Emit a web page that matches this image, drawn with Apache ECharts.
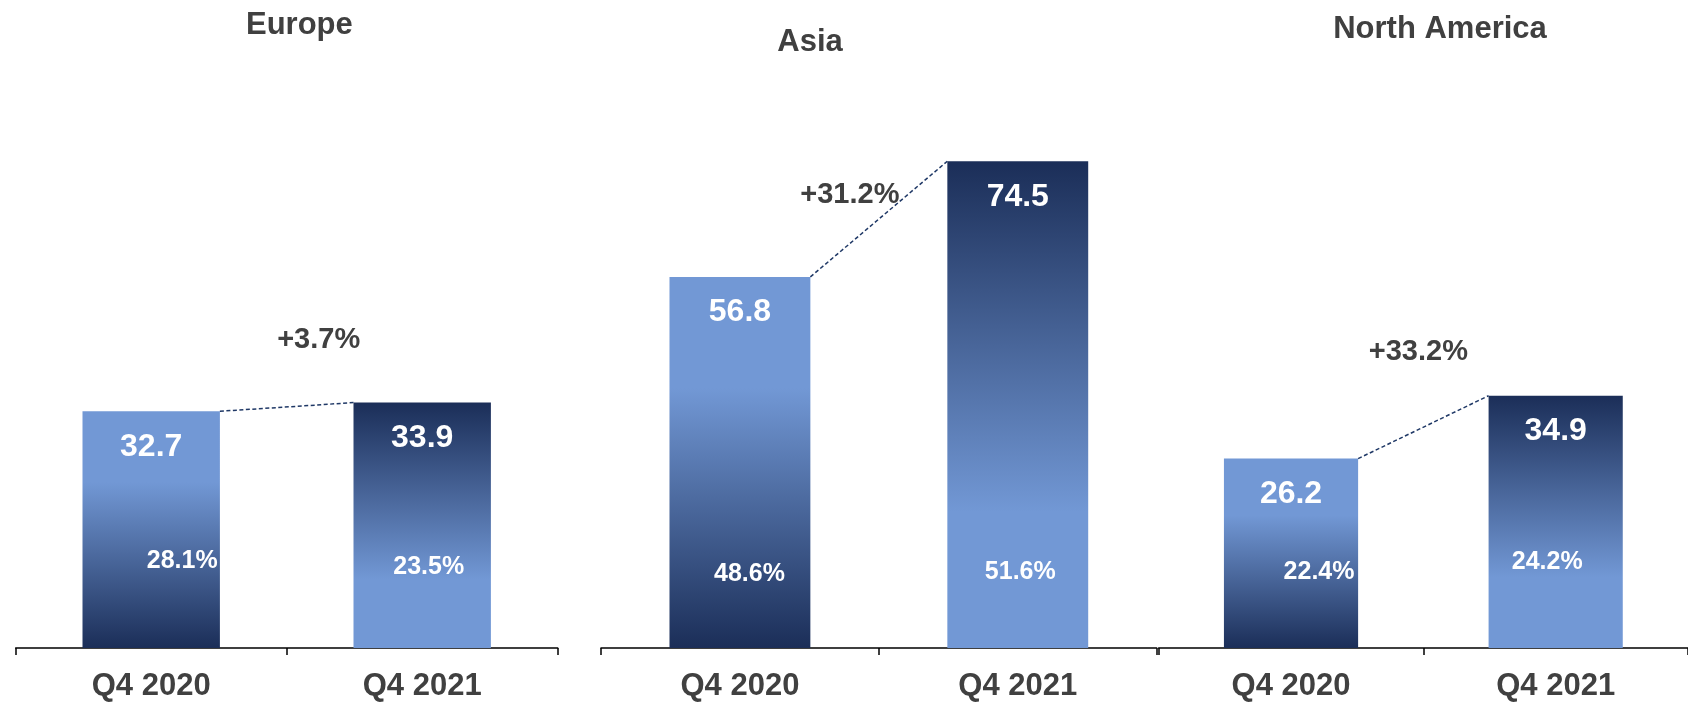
<!DOCTYPE html>
<html>
<head>
<meta charset="utf-8">
<title>Revenue by region, Q4 2020 vs Q4 2021</title>
<script src="https://cdn.jsdelivr.net/npm/echarts@6/dist/echarts.min.js"></script>
<style>
  html, body { margin: 0; padding: 0; background: #ffffff; }
  #chart { width: 1688px; height: 702px; }
</style>
</head>
<body>
<div id="chart"></div>
<script>
// Quarters compared in every regional panel
const periods = ['Q4 2020', 'Q4 2021'];
const regionNames = ['Europe', 'Asia', 'North America'];

// Quarterly revenue per region
const europeRevenue = [32.7, 33.9];
const asiaRevenue = [56.8, 74.5];
const northAmericaRevenue = [26.2, 34.9];

// Regional share of the quarter's total (%)
const europeShare = [28.1, 23.5];
const asiaShare = [48.6, 51.6];
const northAmericaShare = [22.4, 24.2];

const revenue = [europeRevenue, asiaRevenue, northAmericaRevenue];
const share = [europeShare, asiaShare, northAmericaShare];

const LIGHT = '#7298d5';
const NAVY = '#1b2e58';
const INK = '#404040';
const FONT = '"Liberation Sans", Arial, Helvetica, sans-serif';
const BAR_FRAC = 0.507;
const AXIS_BOTTOM = 52.7;

// Panel layout: grid box, title anchor, growth-label shift from the connector midpoint,
// and share-label placement [x shift from bar centre, lift above the axis]
const panels = [
  { grid: { left: 15.7, right: 1130.3, top: 68.9 }, title: [294.4, 5], 
    growthShift: [32, -66.5], shareShift: [[31, 89.3], [6.5, 83.3]] },
  { grid: { left: 601, right: 531.3, top: 125.3 }, title: [805, 21.5],
    growthShift: [-29, -24], shareShift: [[9.5, 76.3], [2.5, 78.8]] },
  { grid: { left: 1158.7, right: -10.7, top: 69.7 }, title: [1435, 8.5],
    growthShift: [-5, -75.5], shareShift: [[28, 78.8], [-8.5, 88.3]] }
];

// Q4 2020 bars fade light-to-navy downward, Q4 2021 bars navy-to-light
const fill2020 = new echarts.graphic.LinearGradient(0, 0, 0, 1, [
  { offset: 0, color: LIGHT }, { offset: 0.3, color: LIGHT }, { offset: 1, color: NAVY }
]);
const fill2021 = new echarts.graphic.LinearGradient(0, 0, 0, 1, [
  { offset: 0, color: NAVY }, { offset: 0.72, color: LIGHT }, { offset: 1, color: LIGHT }
]);
const fills = [fill2020, fill2021];

function growthText(values) {
  const g = (values[1] / values[0] - 1) * 100;
  return (g >= 0 ? '+' : '') + g.toFixed(1) + '%';
}

const grids = [], xAxes = [], yAxes = [], titles = [], series = [];

panels.forEach((panel, i) => {
  grids.push(Object.assign({ bottom: AXIS_BOTTOM, containLabel: false }, panel.grid));

  xAxes.push({
    type: 'category', gridIndex: i, data: periods,
    axisLine: { lineStyle: { color: '#000000', width: 1.5 } },
    axisTick: { show: true, length: 7, lineStyle: { color: '#000000', width: 1.5 } },
    axisLabel: { fontSize: 31, fontWeight: 'bold', color: INK, margin: 23, fontFamily: FONT }
  });

  yAxes.push({ type: 'value', gridIndex: i, min: 0, max: 80, show: false });

  titles.push({
    text: regionNames[i], left: panel.title[0], top: panel.title[1], textAlign: 'center',
    textStyle: { fontSize: 31, fontWeight: 'bold', color: INK, fontFamily: FONT }
  });

  // Revenue bars with the value inside the top
  series.push({
    type: 'bar', name: regionNames[i], xAxisIndex: i, yAxisIndex: i,
    barWidth: (BAR_FRAC * 100) + '%', barGap: '-100%',
    data: revenue[i].map((v, j) => ({ value: v, itemStyle: { color: fills[j] } })),
    label: {
      show: true, position: 'insideTop', distance: 19.5,
      formatter: p => p.value.toFixed(1),
      color: '#ffffff', fontSize: 32, lineHeight: 32, fontWeight: 'bold', fontFamily: FONT
    },
    z: 2
  });

  // Transparent overlay carrying the share labels near the bar base
  series.push({
    type: 'bar', name: regionNames[i] + ' share', xAxisIndex: i, yAxisIndex: i,
    barWidth: (BAR_FRAC * 100) + '%', barGap: '-100%', silent: true,
    itemStyle: { color: 'rgba(0,0,0,0)' },
    data: revenue[i].map((v, j) => ({
      value: v,
      label: { offset: [panel.shareShift[j][0], -(panel.shareShift[j][1] - 15.5)] }
    })),
    label: {
      show: true, position: 'insideBottom', distance: 0,
      formatter: p => share[i][p.dataIndex].toFixed(1) + '%',
      color: '#ffffff', fontSize: 25, lineHeight: 26, fontWeight: 'bold', fontFamily: FONT
    },
    z: 3
  });

  // Dashed connector between bar tops, with the year-over-year growth label
  series.push({
    type: 'custom', name: regionNames[i] + ' growth', xAxisIndex: i, yAxisIndex: i,
    encode: { x: 0, y: [1, 2] },
    data: [[0, revenue[i][0], revenue[i][1]]],
    silent: true, z: 4,
    renderItem: (params, api) => {
      const half = api.size([1, 0])[0] * BAR_FRAC / 2;
      const a = api.coord([0, api.value(1)]);
      const b = api.coord([1, api.value(2)]);
      const x1 = a[0] + half, y1 = a[1], x2 = b[0] - half, y2 = b[1];
      return {
        type: 'group',
        children: [
          { type: 'line', shape: { x1, y1, x2, y2 },
            style: { stroke: '#1f3866', lineWidth: 1.5, lineDash: [4, 2.5] } },
          { type: 'text',
            x: (x1 + x2) / 2 + panel.growthShift[0],
            y: (y1 + y2) / 2 + panel.growthShift[1],
            style: { text: growthText(revenue[i]), font: 'bold 29px ' + FONT,
                     fill: INK, align: 'center', verticalAlign: 'middle' } }
        ]
      };
    }
  });
});

const chart = echarts.init(document.getElementById('chart'), null, { renderer: 'canvas' });
chart.setOption({
  animation: false,
  backgroundColor: '#ffffff',
  textStyle: { fontFamily: FONT },
  title: titles,
  grid: grids,
  xAxis: xAxes,
  yAxis: yAxes,
  series: series
});
</script>
</body>
</html>
